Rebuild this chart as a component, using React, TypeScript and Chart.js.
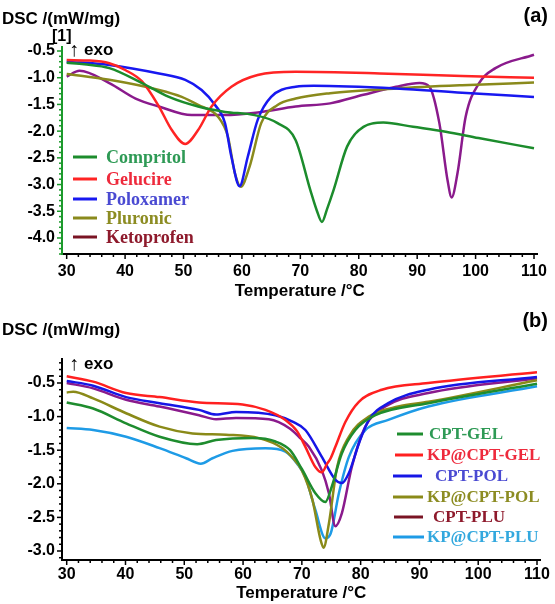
import React, { useEffect, useRef } from "react";
import { Chart, registerables } from "chart.js";

Chart.register(...registerables);

// ---------- Panel (a) data ----------
const compritolT = [30, 33, 37.3, 42.9, 47.5, 52.5, 57.1, 62.2, 66.1, 69.2, 71.7, 72.8, 73.7, 74.6, 75.7, 78.0, 80.8, 84.2, 89.3, 94.9, 100.5, 110];
const compritolY = [-0.72, -0.75, -0.82, -1.10, -1.36, -1.54, -1.64, -1.70, -1.85, -2.17, -3.1, -3.48, -3.70, -3.45, -3.1, -2.29, -1.92, -1.84, -1.92, -2.01, -2.13, -2.32];
const gelucireT = [30, 34, 37.3, 40.1, 42.9, 45.8, 48.0, 50.3, 52.5, 54.8, 58.2, 62.7, 69.2, 83.6, 97.7, 110];
const gelucireY = [-0.67, -0.68, -0.73, -0.86, -1.07, -1.54, -1.98, -2.24, -1.98, -1.54, -1.17, -0.95, -0.89, -0.92, -0.97, -1.0];
const poloxamerT = [30, 37.3, 45.8, 50.3, 53.1, 55.4, 57.1, 58.2, 59.6, 61.0, 62.7, 65.0, 69.2, 72.3, 86.4, 97.7, 110];
const poloxamerY = [-0.70, -0.76, -0.92, -1.04, -1.23, -1.51, -1.85, -2.48, -3.03, -2.48, -1.79, -1.36, -1.17, -1.15, -1.20, -1.28, -1.36];
const pluronicT = [30, 37.3, 45.8, 49.7, 52.5, 55.9, 57.6, 58.8, 59.8, 61.3, 63.3, 66.1, 69.2, 75.1, 86.4, 97.7, 110];
const pluronicY = [-0.93, -1.04, -1.23, -1.36, -1.51, -1.73, -2.1, -2.79, -3.04, -2.67, -1.85, -1.51, -1.39, -1.29, -1.20, -1.14, -1.09];
const ketoprofenT = [30, 32.2, 37.3, 41.8, 45.8, 51.4, 57.1, 62.7, 69.2, 75.1, 80.8, 86.4, 90.4, 92.1, 93.8, 95.2, 95.9, 96.9, 98.3, 100.6, 103.4, 110];
const ketoprofenY = [-0.98, -0.87, -1.10, -1.39, -1.54, -1.70, -1.70, -1.65, -1.54, -1.48, -1.32, -1.17, -1.10, -1.17, -1.85, -2.92, -3.24, -2.79, -1.73, -1.10, -0.82, -0.57];

// ---------- Panel (b) data ----------
const cptGelT = [30, 34.5, 40.1, 45.8, 52.2, 55.4, 61.6, 65.5, 68.0, 70.0, 72.3, 74.0, 75.1, 76.8, 79.1, 82.5, 91.5, 110];
const cptGelY = [-0.79, -0.88, -1.10, -1.30, -1.41, -1.35, -1.32, -1.37, -1.50, -1.78, -2.14, -2.27, -2.04, -1.55, -1.20, -0.98, -0.80, -0.51];
const kpGelT = [30, 34.5, 40.1, 45.8, 52.5, 59.9, 63.8, 67.2, 69.2, 70.6, 72.3, 73.4, 74.3, 74.9, 75.7, 77.4, 79.7, 83.6, 91.5, 110];
const kpGelY = [-0.40, -0.48, -0.65, -0.71, -0.79, -0.82, -0.90, -1.05, -1.22, -1.45, -1.75, -1.83, -1.70, -1.62, -1.45, -1.08, -0.78, -0.60, -0.50, -0.34];
const cptPolT = [30, 34.5, 40.1, 45.8, 52.5, 55.4, 58.8, 65.5, 68.5, 70.6, 73.4, 75.7, 76.8, 78.0, 79.7, 81.4, 84.7, 91.5, 110];
const cptPolY = [-0.47, -0.54, -0.71, -0.80, -0.90, -0.97, -0.93, -0.98, -1.08, -1.20, -1.60, -1.94, -1.99, -1.84, -1.40, -1.05, -0.80, -0.60, -0.41];
const kpPolT = [30, 31.1, 34.5, 40.1, 45.8, 51.4, 57.1, 62.7, 66.7, 68.5, 70.0, 71.8, 73.2, 73.7, 74.6, 76.0, 78.0, 81.4, 86.4, 91.5, 110];
const kpPolY = [-0.64, -0.63, -0.73, -0.95, -1.15, -1.25, -1.27, -1.32, -1.47, -1.62, -1.80, -2.24, -2.84, -2.95, -2.59, -1.75, -1.30, -1.00, -0.85, -0.78, -0.46];
const cptPluT = [30, 34.5, 40.1, 45.8, 52.5, 55.4, 58.8, 64.4, 68.0, 69.5, 71.2, 73.4, 74.6, 75.7, 76.8, 78.5, 80.8, 84.2, 91.5, 110];
const cptPluY = [-0.50, -0.58, -0.75, -0.85, -0.98, -1.04, -1.02, -1.04, -1.18, -1.30, -1.45, -1.80, -2.14, -2.63, -2.44, -1.75, -1.15, -0.85, -0.65, -0.43];
const kpPluT = [30, 34.5, 40.1, 45.8, 50.3, 52.8, 54.8, 58.2, 63.8, 67.2, 69.2, 70.6, 72.3, 74.0, 74.9, 76.3, 78.0, 80.8, 84.7, 91.5, 110];
const kpPluY = [-1.17, -1.20, -1.30, -1.47, -1.62, -1.70, -1.62, -1.51, -1.47, -1.52, -1.70, -1.90, -2.39, -2.81, -2.74, -2.14, -1.60, -1.20, -1.05, -0.85, -0.55];

// ---------- Labels ----------
const xTickValues = [30, 40, 50, 60, 70, 80, 90, 100, 110];
const yTicksA = [-0.5, -1.0, -1.5, -2.0, -2.5, -3.0, -3.5, -4.0];
const yTicksB = [-0.5, -1.0, -1.5, -2.0, -2.5, -3.0];
const namesA = ["Compritol", "Gelucire", "Poloxamer", "Pluronic", "Ketoprofen"];
const namesB = ["CPT-GEL", "KP@CPT-GEL", "CPT-POL", "KP@CPT-POL", "CPT-PLU", "KP@CPT-PLU"];

const SANS = '"Liberation Sans", Arial, sans-serif';
const SERIF = '"Liberation Serif", "Times New Roman", serif';

type Series = { name: string; t: number[]; y: number[]; line: string; legendLine: string; text: string };

const seriesA: Series[] = [
  { name: namesA[0], t: compritolT, y: compritolY, line: "#1c8c2c", legendLine: "#1c8c2c", text: "#2e9a55" },
  { name: namesA[1], t: gelucireT, y: gelucireY, line: "#ff2424", legendLine: "#ff2424", text: "#ee2a3c" },
  { name: namesA[2], t: poloxamerT, y: poloxamerY, line: "#1818f0", legendLine: "#1818f0", text: "#4a4ad2" },
  { name: namesA[3], t: pluronicT, y: pluronicY, line: "#8a8a1c", legendLine: "#8a8a1c", text: "#8c8c22" },
  { name: namesA[4], t: ketoprofenT, y: ketoprofenY, line: "#8a1a8c", legendLine: "#7a1424", text: "#8e1a2c" },
];

const seriesB: Series[] = [
  { name: namesB[0], t: cptGelT, y: cptGelY, line: "#1e8c2e", legendLine: "#1e8c2e", text: "#2e9a55" },
  { name: namesB[1], t: kpGelT, y: kpGelY, line: "#ff2020", legendLine: "#ff2020", text: "#ee2a3c" },
  { name: namesB[2], t: cptPolT, y: cptPolY, line: "#1616e6", legendLine: "#1616e6", text: "#4a4ad2" },
  { name: namesB[3], t: kpPolT, y: kpPolY, line: "#8a8a18", legendLine: "#8a8a18", text: "#8c8c22" },
  { name: namesB[4], t: cptPluT, y: cptPluY, line: "#8a1a8c", legendLine: "#7a1424", text: "#8e1a2c" },
  { name: namesB[5], t: kpPluT, y: kpPluY, line: "#1e9be6", legendLine: "#1e9be6", text: "#33a8de" },
];

type PanelCfg = {
  height: number;
  areaTop: number;
  areaBottom: number;
  yMin: number;
  yMax: number;
  yTicks: number[];
  yAxisColor: string;
  series: Series[];
  letter: string;
  dscY: number;
  bracket: boolean;
  exoY: number;
  xTitleY: number;
  tickPad: number;
  legend: { lineX1: number[]; lineX2: number[]; textX: number[]; y: number[]; size: number };
};

const panelA: PanelCfg = {
  height: 300,
  areaTop: 47,
  areaBottom: 254,
  yMin: -4.3,
  yMax: -0.425,
  yTicks: yTicksA,
  yAxisColor: "#1c9a2c",
  series: seriesA,
  letter: "(a)",
  dscY: 19,
  bracket: true,
  exoY: 50,
  xTitleY: 291,
  tickPad: 8,
  legend: {
    lineX1: [73, 73, 73, 73, 73],
    lineX2: [97, 97, 97, 97, 97],
    textX: [106, 106, 106, 106, 106],
    y: [157, 179, 199, 218, 237],
    size: 18,
  },
};

const panelB: PanelCfg = {
  height: 304,
  areaTop: 59,
  areaBottom: 260,
  yMin: -3.134,
  yMax: -0.143,
  yTicks: yTicksB,
  yAxisColor: "#000000",
  series: seriesB,
  letter: "(b)",
  dscY: 30,
  bracket: false,
  exoY: 64,
  xTitleY: 293,
  tickPad: 5,
  legend: {
    lineX1: [397, 395, 393, 393, 394, 393],
    lineX2: [423, 423, 422, 423, 423, 424],
    textX: [429, 427, 435, 427, 433, 427],
    y: [134, 155, 176, 197, 217, 237],
    size: 17,
  },
};

function makeDecor(cfg: PanelCfg) {
  return {
    id: "decor" + cfg.letter,
    afterDraw(chart: any) {
      const ctx = chart.ctx as CanvasRenderingContext2D;
      const { left, right, bottom } = chart.chartArea;
      const xs = chart.scales.x;
      const ys = chart.scales.y;
      ctx.save();
      // x minor/major ticks
      ctx.strokeStyle = "#000";
      ctx.lineWidth = 1.5;
      for (let t = 30; t <= 110; t += 2) {
        const px = xs.getPixelForValue(t);
        const len = t % 10 === 0 ? 5 : 3;
        ctx.beginPath();
        ctx.moveTo(px, bottom);
        ctx.lineTo(px, bottom + len);
        ctx.stroke();
      }
      // y minor/major ticks
      ctx.strokeStyle = cfg.yAxisColor;
      for (let k = Math.ceil(cfg.yMin * 10); k <= Math.floor(cfg.yMax * 10); k++) {
        const py = ys.getPixelForValue(k / 10);
        const len = k % 5 === 0 ? 5 : 3;
        ctx.beginPath();
        ctx.moveTo(left - len, py);
        ctx.lineTo(left, py);
        ctx.stroke();
      }
      // texts
      ctx.fillStyle = "#000";
      ctx.textBaseline = "middle";
      ctx.textAlign = "left";
      ctx.font = `bold 17px ${SANS}`;
      ctx.fillText("DSC /(mW/mg)", 2, cfg.dscY);
      if (cfg.bracket) {
        ctx.font = `bold 16px ${SANS}`;
        ctx.fillText("[1]", 52, 37);
      }
      ctx.font = `20px ${SANS}`;
      ctx.fillText("\u2191", 69, cfg.exoY);
      ctx.font = `bold 17px ${SANS}`;
      ctx.fillText("exo", 84, cfg.exoY);
      ctx.font = `bold 20px ${SANS}`;
      ctx.textAlign = "right";
      ctx.fillText(cfg.letter, 548, cfg.letter === "(a)" ? 16 : 21);
      // x title
      ctx.textAlign = "center";
      ctx.font = `bold 17px ${SANS}`;
      ctx.fillText("Temperature /\u00B0C", (left + right) / 2, cfg.xTitleY);
      // legend
      ctx.textAlign = "left";
      ctx.font = `bold ${cfg.legend.size}px ${SERIF}`;
      cfg.series.forEach((s, i) => {
        const y = cfg.legend.y[i];
        ctx.strokeStyle = s.legendLine;
        ctx.lineWidth = 3;
        ctx.beginPath();
        ctx.moveTo(cfg.legend.lineX1[i], y);
        ctx.lineTo(cfg.legend.lineX2[i], y);
        ctx.stroke();
        ctx.fillStyle = s.text;
        ctx.fillText(s.name, cfg.legend.textX[i], y + 1);
      });
      ctx.restore();
    },
  };
}

function Panel({ cfg, top }: { cfg: PanelCfg; top: number }) {
  const ref = useRef<HTMLCanvasElement>(null);
  useEffect(() => {
    if (!ref.current) return;
    const chart = new Chart(ref.current, {
      type: "line",
      data: {
        datasets: cfg.series.map((s) => ({
          label: s.name,
          data: s.t.map((t, i) => ({ x: t, y: s.y[i] })),
          borderColor: s.line,
          borderWidth: 2.5,
          pointRadius: 0,
          fill: false,
          cubicInterpolationMode: "monotone" as const,
        })),
      },
      options: {
        animation: false,
        responsive: false,
        events: [],
        layout: { padding: { top: cfg.areaTop, right: 12, left: 0, bottom: 0 } },
        plugins: { legend: { display: false }, tooltip: { enabled: false } },
        scales: {
          x: {
            type: "linear",
            min: 29.2,
            max: 110.6,
            afterBuildTicks: (scale: any) => {
              scale.ticks = xTickValues.map((v) => ({ value: v }));
            },
            afterFit: (scale: any) => {
              scale.height = cfg.height - cfg.areaBottom;
            },
            grid: { display: false, drawTicks: false },
            border: { display: true, color: "#000", width: 2 },
            ticks: {
              color: "#000",
              padding: cfg.tickPad,
              maxRotation: 0,
              autoSkip: false,
              font: { family: SANS, size: 16, weight: "bold" },
              callback: (v: any) => String(v),
            },
          },
          y: {
            type: "linear",
            min: cfg.yMin,
            max: cfg.yMax,
            afterBuildTicks: (scale: any) => {
              scale.ticks = cfg.yTicks.map((v) => ({ value: v }));
            },
            afterFit: (scale: any) => {
              scale.width = 62;
            },
            grid: { display: false, drawTicks: false },
            border: { display: true, color: cfg.yAxisColor, width: 2 },
            ticks: {
              color: "#000",
              padding: 7,
              autoSkip: false,
              font: { family: SANS, size: 16, weight: "bold" },
              callback: (v: any) => Number(v).toFixed(1),
            },
          },
        },
      },
      plugins: [makeDecor(cfg)],
    });
    return () => chart.destroy();
  }, [cfg]);
  return (
    <canvas
      ref={ref}
      width={555}
      height={cfg.height}
      style={{ position: "absolute", left: 0, top, width: 555, height: cfg.height }}
    />
  );
}

export default function App() {
  return (
    <div style={{ position: "absolute", left: 0, top: 0, width: 555, height: 604, background: "#fff" }}>
      <Panel cfg={panelA} top={0} />
      <Panel cfg={panelB} top={300} />
    </div>
  );
}
